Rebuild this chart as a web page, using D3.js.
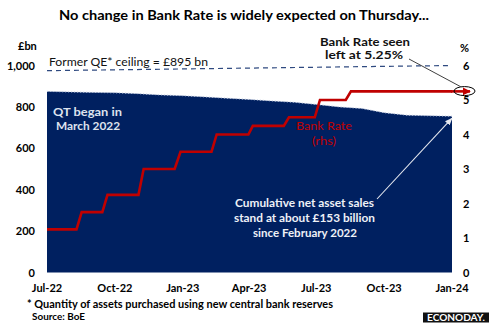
<!DOCTYPE html>
<html><head><meta charset="utf-8">
<script src="https://cdn.jsdelivr.net/npm/d3@7"></script>
<style>
html,body{margin:0;padding:0;background:#fff;}
svg{display:block;font-family:Lato,"Open Sans",sans-serif;}
</style></head>
<body><svg id="c" width="489" height="326"></svg>
<script>
// ---- data ----
const holdDates = ["2022-07-01","2022-08-01","2022-09-01","2022-10-01","2022-11-01","2022-12-01",
  "2023-01-01","2023-02-01","2023-03-01","2023-04-01","2023-05-01","2023-06-01","2023-07-01",
  "2023-08-01","2023-09-01","2023-10-01","2023-11-01","2023-12-01","2024-01-01"];
const holdValues = [875,872,870,868,864,858,854,848,842,836,829,822,812,800,792,772,760,757,755];
const rateDates = ["2022-07-01","2022-08-10","2022-08-17","2022-09-14","2022-09-21","2022-11-02","2022-11-09",
  "2022-12-21","2022-12-29","2023-02-09","2023-02-16","2023-03-31","2023-04-06","2023-05-18","2023-05-25",
  "2023-06-29","2023-07-06","2023-08-10","2023-08-17","2024-01-01"];
const rateValues = [1.25,1.25,1.75,1.75,2.25,2.25,3.0,3.0,3.5,3.5,4.0,4.0,4.25,4.25,4.5,4.5,5.0,5.0,5.25,5.25];
const leftTicks = [0,200,400,600,800,1000];
const rightTicks = [0,1,2,3,4,5,6];
const xTickDates = ["2022-07-01","2022-10-01","2023-01-01","2023-04-01","2023-07-01","2023-10-01","2024-01-01"];

const parse = d3.timeParse("%Y-%m-%d");
const hold = holdDates.map((d,i)=>({date:parse(d), v:holdValues[i]}));
const rate = rateDates.map((d,i)=>({date:parse(d), v:rateValues[i]}));

const svg = d3.select("#c");
const x = d3.scaleTime().domain([parse("2022-07-01"), parse("2024-01-01")]).range([47, 452]);
const yL = d3.scaleLinear().domain([0,1000]).range([272.5, 65.5]);
const yR = d3.scaleLinear().domain([0,6]).range([272.5, 65.5]);

const NAVY = "#002060", RED = "#c00000";

function txt(s, px, py, opts={}) {
  const t = svg.append("text").attr("x", px).attr("y", py).text(s)
    .attr("font-size", opts.size||11).attr("font-weight", opts.weight||"bold")
    .attr("fill", opts.fill||"#000").attr("text-anchor", opts.anchor||"start");
  if (opts.w) t.attr("textLength", opts.w).attr("lengthAdjust","spacingAndGlyphs");
  return t;
}

// defs
const defs = svg.append("defs");
defs.append("marker").attr("id","redArrow").attr("viewBox","0 0 10 10").attr("refX",9).attr("refY",5)
  .attr("markerWidth",3.2).attr("markerHeight",3.2).attr("orient","auto")
  .append("path").attr("d","M0,0 L10,5 L0,10 z").attr("fill",RED);
defs.append("marker").attr("id","whiteArrow").attr("viewBox","0 0 10 10").attr("refX",9).attr("refY",5)
  .attr("markerWidth",7).attr("markerHeight",7).attr("orient","auto")
  .append("path").attr("d","M0,1 L10,5 L0,9 z").attr("fill","#e6e9f0");

// area
const area = d3.area().x(d=>x(d.date)).y0(yL(0)).y1(d=>yL(d.v));
svg.append("path").datum(hold).attr("d", area).attr("fill", NAVY);
svg.append("path").datum(hold).attr("d", d3.line().x(d=>x(d.date)).y(d=>yL(d.v)))
  .attr("fill","none").attr("stroke","#b8c4dc").attr("stroke-width",1).attr("stroke-dasharray","1.2,1.8");

// former QE ceiling annotation line
svg.append("line").attr("x1", x(parse("2022-07-01"))).attr("x2", x(parse("2024-01-01")))
  .attr("y1", yL(975)).attr("y2", yR(6))
  .attr("stroke","#2f4a80").attr("stroke-width",1.2).attr("stroke-dasharray","5,4");
txt("Former QE* ceiling = £895 bn", 49, 66, {size:12, weight:"normal", w:159, fill:"#111"});

// bank rate line
svg.append("path").datum(rate).attr("d", d3.line().x(d=>x(d.date)).y(d=>yR(d.v)))
  .attr("fill","none").attr("stroke",RED).attr("stroke-width",2.6).attr("stroke-linejoin","miter");
const last = rate[rate.length-1];
svg.append("line").attr("x1", x(last.date)-1).attr("x2", x(last.date)+18)
  .attr("y1", yR(last.v)).attr("y2", yR(last.v))
  .attr("stroke",RED).attr("stroke-width",2.6).attr("marker-end","url(#redArrow)");
svg.append("ellipse").attr("cx", x(last.date)+12.5).attr("cy", yR(last.v)-0.3)
  .attr("rx",10.5).attr("ry",4.5).attr("fill","none").attr("stroke","#000").attr("stroke-width",1);
svg.append("line").attr("x1",409).attr("y1",59).attr("x2", x(last.date)+9).attr("y2", yR(last.v)-4.5)
  .attr("stroke","#404040").attr("stroke-width",1);

// holdings arrow annotation
const lastH = hold[hold.length-1];
svg.append("line").attr("x1",377).attr("y1",199).attr("x2", x(lastH.date)).attr("y2", yL(lastH.v)+2)
  .attr("stroke","#e6e9f0").attr("stroke-width",1.1).attr("marker-end","url(#whiteArrow)");

// axis labels
leftTicks.forEach(v=> txt(d3.format(",")(v), 35, yL(v)+4, {anchor:"end"}));
rightTicks.forEach(v=> txt(String(v), 463, yR(v)+4));
const fmt = d3.timeFormat("%b-%y");
xTickDates.forEach(d=> txt(fmt(parse(d)), x(parse(d)), 292, {anchor:"middle"}));
txt("£bn", 18, 50);
txt("%", 460, 52);

// title
txt("No change in Bank Rate is widely expected on Thursday...", 244, 19.5, {size:13.5, anchor:"middle", w:370});

// annotations
txt("Bank Rate seen", 365, 45.5, {size:11.5, anchor:"middle", w:90, fill:"#111"});
txt("left at 5.25%", 364, 58.5, {size:11.5, anchor:"middle", w:78, fill:"#111"});
txt("QT  began in", 87.5, 116, {size:12, anchor:"middle", w:69, fill:"#dde3ee"});
txt("March 2022", 88, 130, {size:12, anchor:"middle", w:64, fill:"#dde3ee"});
txt("Bank Rate", 324, 130, {size:12, weight:"normal", anchor:"middle", w:56, fill:RED});
txt("(rhs)", 324, 145, {size:12, weight:"normal", anchor:"middle", w:24, fill:RED});
txt("Cumulative net asset sales", 304.5, 207, {size:12, anchor:"middle", w:139, fill:"#eef1f7"});
txt("stand at about £153 billion", 304.5, 222, {size:12, anchor:"middle", w:141, fill:"#eef1f7"});
txt("since February 2022", 305, 237, {size:12, anchor:"middle", w:104, fill:"#eef1f7"});

// footnotes
txt("* Quantity of assets purchased using new central bank reserves", 27, 308, {size:11, w:306});
txt("Source: BoE", 32, 320, {size:9.5, w:53});

// logo
svg.append("rect").attr("x",423).attr("y",312.5).attr("width",66).attr("height",10).attr("fill","#111");
txt("ECONODAY.", 456, 321, {size:8.5, anchor:"middle", fill:"#fff", w:58});
</script></body></html>
